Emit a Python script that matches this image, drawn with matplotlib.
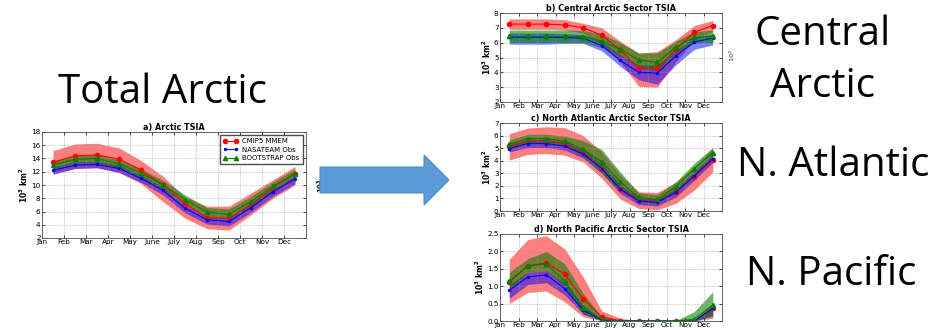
import numpy as np
import matplotlib
matplotlib.use("Agg")
import matplotlib.pyplot as plt
from matplotlib.patches import FancyArrow

W, H = 953, 330

months = ["Jan", "Feb", "Mar", "Apr", "May", "June", "July", "Aug", "Sep", "Oct", "Nov", "Dec"]
# monthly means plotted at mid-month
x_mid = np.arange(12) + 0.5

# a) Arctic TSIA (10^3 km^2)
a_cmip = [13.45, 14.4, 14.55, 13.9, 12.3, 10.0, 7.2, 5.05, 5.0, 7.05, 9.6, 11.7]
a_cmip_hi = [15.2, 16.2, 16.3, 15.6, 13.7, 11.3, 8.2, 6.8, 6.8, 8.8, 10.8, 12.8]
a_cmip_lo = [11.7, 12.5, 12.6, 11.9, 10.2, 7.5, 5.0, 3.4, 3.2, 5.5, 8.0, 10.0]
a_nt = [12.2, 13.0, 13.1, 12.5, 11.0, 9.2, 6.5, 4.75, 4.5, 6.6, 9.0, 10.9]
a_nt_hi = [12.7, 13.5, 13.6, 13.0, 11.5, 9.7, 7.0, 5.2, 5.0, 7.1, 9.5, 11.4]
a_nt_lo = [11.6, 12.5, 12.6, 11.9, 10.4, 8.5, 5.8, 4.1, 3.8, 5.9, 8.3, 10.2]
a_bs = [13.0, 13.9, 14.0, 13.2, 11.8, 10.0, 7.8, 5.9, 5.6, 7.5, 9.8, 11.7]
a_bs_hi = [13.6, 14.5, 14.6, 13.8, 12.4, 10.7, 8.5, 6.6, 6.4, 8.3, 10.5, 12.4]
a_bs_lo = [12.4, 13.3, 13.4, 12.6, 11.2, 9.3, 7.1, 5.2, 4.9, 6.8, 9.1, 11.0]

# b) Central Arctic sector
b_cmip = [7.25, 7.25, 7.25, 7.2, 7.0, 6.5, 5.5, 4.27, 4.27, 5.55, 6.7, 7.15]
b_cmip_hi = [7.6, 7.6, 7.6, 7.55, 7.3, 7.0, 6.1, 5.3, 5.4, 6.2, 7.15, 7.5]
b_cmip_lo = [6.9, 6.9, 6.9, 6.85, 6.65, 5.85, 4.7, 3.05, 3.0, 4.7, 6.2, 6.75]
b_nt = [6.37, 6.37, 6.37, 6.35, 6.3, 5.8, 4.8, 4.0, 3.95, 5.1, 6.05, 6.3]
b_nt_hi = [6.65, 6.65, 6.65, 6.6, 6.55, 6.1, 5.2, 4.5, 4.5, 5.45, 6.35, 6.6]
b_nt_lo = [5.9, 5.9, 5.9, 5.95, 5.95, 5.45, 4.4, 3.5, 3.2, 4.5, 5.55, 5.85]
b_bs = [6.42, 6.42, 6.42, 6.42, 6.4, 6.1, 5.55, 4.83, 4.67, 5.7, 6.35, 6.42]
b_bs_hi = [6.85, 6.85, 6.85, 6.85, 6.8, 6.6, 6.0, 5.3, 5.3, 6.1, 6.75, 6.85]
b_bs_lo = [6.0, 6.0, 6.0, 6.0, 6.0, 5.7, 5.1, 4.27, 4.1, 5.3, 5.95, 6.0]

# c) North Atlantic Arctic sector
c_cmip = [5.15, 5.55, 5.63, 5.3, 4.7, 3.38, 1.74, 0.95, 0.8, 1.48, 2.72, 4.04]
c_cmip_hi = [6.15, 6.6, 6.7, 6.63, 6.0, 4.7, 2.85, 1.53, 1.48, 2.3, 3.5, 5.0]
c_cmip_lo = [4.05, 4.5, 4.57, 4.44, 3.9, 2.6, 0.95, 0.2, 0.08, 0.6, 1.66, 3.1]
c_nt = [4.97, 5.36, 5.36, 5.15, 4.54, 3.38, 1.74, 0.8, 0.7, 1.48, 2.8, 4.17]
c_nt_hi = [5.3, 5.7, 5.7, 5.5, 4.9, 3.75, 2.1, 1.05, 0.95, 1.8, 3.1, 4.5]
c_nt_lo = [4.7, 5.05, 5.05, 4.85, 4.2, 3.0, 1.4, 0.5, 0.4, 1.1, 2.45, 3.85]
c_bs = [5.3, 5.76, 5.76, 5.55, 4.9, 3.9, 2.32, 1.08, 0.92, 1.93, 3.38, 4.65]
c_bs_hi = [5.65, 6.1, 6.1, 5.95, 5.6, 4.9, 3.1, 1.45, 1.3, 2.3, 3.8, 5.05]
c_bs_lo = [4.95, 5.4, 5.4, 5.15, 4.4, 3.0, 1.6, 0.75, 0.6, 1.5, 2.95, 4.25]

# d) North Pacific Arctic sector
d_cmip = [1.12, 1.58, 1.67, 1.34, 0.63, 0.12, 0.01, 0.0, 0.0, 0.0, 0.0, 0.38]
d_cmip_hi = [1.77, 2.34, 2.45, 2.07, 1.26, 0.29, 0.08, 0.01, 0.0, 0.01, 0.03, 0.5]
d_cmip_lo = [0.5, 0.82, 0.86, 0.55, 0.12, 0.01, 0.0, 0.0, 0.0, 0.0, 0.0, 0.08]
d_nt = [0.88, 1.26, 1.33, 0.93, 0.31, 0.03, 0.0, 0.0, 0.0, 0.0, 0.0, 0.36]
d_nt_hi = [1.05, 1.4, 1.45, 1.1, 0.45, 0.06, 0.0, 0.0, 0.0, 0.0, 0.01, 0.45]
d_nt_lo = [0.65, 1.05, 1.1, 0.75, 0.2, 0.01, 0.0, 0.0, 0.0, 0.0, 0.0, 0.15]
d_bs = [1.14, 1.58, 1.64, 1.14, 0.38, 0.05, 0.0, 0.0, 0.0, 0.0, 0.05, 0.46]
d_bs_hi = [1.4, 1.79, 2.0, 1.64, 0.79, 0.12, 0.01, 0.0, 0.0, 0.01, 0.27, 0.84]
d_bs_lo = [0.88, 1.4, 1.45, 1.0, 0.2, 0.01, 0.0, 0.0, 0.0, 0.0, 0.0, 0.15]

panels = [
    ("a) Arctic TSIA", (42, 132, 306, 238), (2, 18), np.arange(2, 19, 2),
     [(a_cmip, a_cmip_lo, a_cmip_hi), (a_nt, a_nt_lo, a_nt_hi), (a_bs, a_bs_lo, a_bs_hi)], True),
    ("b) Central Arctic Sector TSIA", (500, 13, 722, 102), (2, 8), np.arange(2, 9, 1),
     [(b_cmip, b_cmip_lo, b_cmip_hi), (b_nt, b_nt_lo, b_nt_hi), (b_bs, b_bs_lo, b_bs_hi)], False),
    ("c) North Atlantic Arctic Sector TSIA", (500, 123, 722, 211), (0, 7), np.arange(0, 8, 1),
     [(c_cmip, c_cmip_lo, c_cmip_hi), (c_nt, c_nt_lo, c_nt_hi), (c_bs, c_bs_lo, c_bs_hi)], False),
    ("d) North Pacific Arctic Sector TSIA", (500, 234, 722, 321), (0, 2.5), np.arange(0, 2.6, 0.5),
     [(d_cmip, d_cmip_lo, d_cmip_hi), (d_nt, d_nt_lo, d_nt_hi), (d_bs, d_bs_lo, d_bs_hi)], False),
]

series_style = [
    dict(color="r", marker="o", ms=3.0, fill_alpha=0.5, label="CMIP5 MMEM"),
    dict(color="b", marker=".", ms=3.0, fill_alpha=0.5, label="NASATEAM Obs"),
    dict(color="g", marker="^", ms=3.0, fill_alpha=0.58, label="BOOTSTRAP Obs"),
]

fig = plt.figure(figsize=(W / 100, H / 100), dpi=100)
fig.patch.set_facecolor("white")


def px_axes(x0, y0, x1, y1):
    return fig.add_axes([x0 / W, 1 - y1 / H, (x1 - x0) / W, (y1 - y0) / H])


for title, box, ylim, yticks, data, with_legend in panels:
    ax = px_axes(*box)
    for (mean, lo, hi), st in zip(data, series_style):
        ax.fill_between(x_mid, lo, hi, color=st["color"], alpha=st["fill_alpha"], lw=0)
    for (mean, lo, hi), st in zip(data, series_style):
        ax.plot(x_mid, mean, color=st["color"], marker=st["marker"], ms=st["ms"],
                lw=0.8, mec=st["color"], label=st["label"])
    ax.set_xlim(0, 12)
    ax.set_ylim(*ylim)
    ax.set_yticks(yticks)
    if ylim[1] < 3:
        ax.set_yticklabels([f"{v:.1f}" for v in yticks])
    ax.set_xticks(np.arange(12))
    ax.set_xticklabels(months)
    ax.tick_params(labelsize=5.2, direction="in", length=2.5, width=0.5,
                   top=True, right=True, pad=1)
    ax.grid(True, color="0.6", ls=":", lw=0.5)
    for s in ax.spines.values():
        s.set_linewidth(0.6)
        s.set_color("0.3")
    ax.set_title(title, fontsize=5.8, fontweight="bold", pad=1.5)
    ax.set_ylabel(r"$\mathbf{10^3\ km^2}$", fontsize=5.5, labelpad=1)
    if with_legend:
        ax.legend(loc="upper right", fontsize=5.0, numpoints=2, handlelength=2.2,
                  fancybox=False, framealpha=1, edgecolor="0.3",
                  borderpad=0.4, labelspacing=0.35, handletextpad=0.6)

# overlay in pixel coordinates for the slide text and arrow
ov = fig.add_axes([0, 0, 1, 1], facecolor="none")
ov.set_xlim(0, W)
ov.set_ylim(H, 0)
ov.axis("off")

# clipped axis-label fragments at the edges of the panels
ov.text(321, 186, r"$\mathbf{10^3}$", fontsize=5, rotation=90, ha="center", va="center")
ov.text(732, 55, r"$\mathbf{10^3}$", fontsize=4.5, rotation=90, ha="center", va="center",
        color="0.5")

ov.add_patch(FancyArrow(320, 180, 129, 0, width=26, head_width=50, head_length=25,
                        length_includes_head=True, facecolor="#5b9bd5",
                        edgecolor="#4f8cc9", lw=0.8, zorder=3))

big = dict(fontsize=29, family="Open Sans", color="black", va="baseline")
ov.text(58, 103, "Total Arctic", ha="left", **big)
ov.text(823, 45, "Central", ha="center", **big)
ov.text(823, 97, "Arctic", ha="center", **big)
ov.text(833, 176, "N. Atlantic", ha="center", **big)
ov.text(831, 285, "N. Pacific", ha="center", **big)

fig.savefig("out.png", dpi=100, facecolor="white")
